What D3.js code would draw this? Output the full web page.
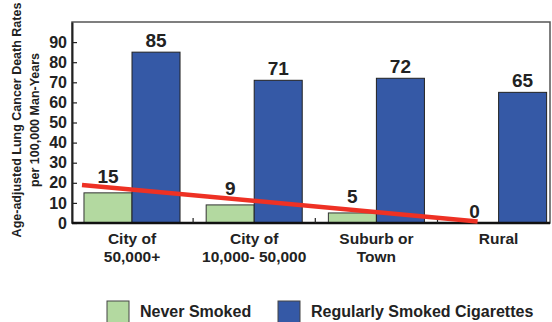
<!DOCTYPE html>
<html>
<head>
<meta charset="utf-8">
<script src="https://cdn.jsdelivr.net/npm/d3@7"></script>
<style>
  html, body { margin: 0; padding: 0; background: #fff; }
  svg { display: block; font-family: "Liberation Sans", Arial, Helvetica, sans-serif; font-weight: bold; }
</style>
</head>
<body>
<svg id="chart" width="552" height="322"></svg>
<script>
// ---- data ----
const categories = ["City of 50,000+", "City of 10,000- 50,000", "Suburb or Town", "Rural"];
const categoryLines = [["City of", "50,000+"], ["City of", "10,000- 50,000"], ["Suburb or", "Town"], ["Rural"]];
const neverSmoked = [15, 9, 5, 0];
const regularlySmoked = [85, 71, 72, 65];
const yTicks = [0, 10, 20, 30, 40, 50, 60, 70, 80, 90];
const trendValues = [18.9, 0.8];
const seriesNames = ["Never Smoked", "Regularly Smoked Cigarettes"];
const yTitle = ["Age-adjusted Lung Cancer Death Rates", "per 100,000 Man-Years"];

// ---- style ----
const green = "#b3d9a0";
const blue = "#3559a6";
const red = "#ee3124";
const ink = "#222";

const svg = d3.select("#chart");
const plot = { left: 72, right: 550, top: 22, bottom: 223 };

const x = d3.scaleBand().domain(categories).range([70.9, 559.7]).paddingInner(0.214).paddingOuter(0.107);
const bw = x.bandwidth();
const y = d3.scaleLinear().domain([0, 100]).range([plot.bottom, plot.top]);

// frame
svg.append("rect")
  .attr("x", plot.left).attr("y", plot.top)
  .attr("width", plot.right - plot.left).attr("height", plot.bottom - plot.top)
  .attr("fill", "none").attr("stroke", "#555").attr("stroke-width", 1.5);

// bars
const g = svg.append("g");
g.selectAll("rect.never").data(neverSmoked).join("rect")
  .attr("class", "never")
  .attr("x", (d, i) => x(categories[i]))
  .attr("y", d => y(d))
  .attr("width", bw / 2)
  .attr("height", d => y(0) - y(d))
  .attr("fill", green).attr("stroke", "#333").attr("stroke-width", d => d > 0 ? 1 : 0);
g.selectAll("rect.smoked").data(regularlySmoked).join("rect")
  .attr("class", "smoked")
  .attr("x", (d, i) => x(categories[i]) + bw / 2)
  .attr("y", d => y(d))
  .attr("width", bw / 2)
  .attr("height", d => y(0) - y(d))
  .attr("fill", blue).attr("stroke", "#222").attr("stroke-width", 1);

// y axis
const yAxis = d3.axisLeft(y).tickValues(yTicks).tickSizeInner(-5).tickSizeOuter(0).tickPadding(5);
const ya = svg.append("g").attr("transform", `translate(${plot.left},0)`).call(yAxis);
ya.select(".domain").attr("stroke", "#222").attr("stroke-width", 2);
ya.selectAll(".tick line").attr("stroke", "#222").attr("stroke-width", 1.2);
ya.selectAll(".tick text").attr("fill", ink).style("font-size", "16px").style("font-weight", "bold")
  .style("font-family", "'Liberation Sans', Arial, sans-serif");

// bottom axis line
svg.append("line")
  .attr("x1", plot.left).attr("x2", plot.right)
  .attr("y1", y(0)).attr("y2", y(0))
  .attr("stroke", "#111").attr("stroke-width", 2.5);

// separator ticks between groups
const step = x.step();
svg.selectAll("line.sep").data(categories.slice(1)).join("line")
  .attr("class", "sep")
  .attr("x1", d => x(d) - step * x.paddingInner() / 2)
  .attr("x2", d => x(d) - step * x.paddingInner() / 2)
  .attr("y1", y(0)).attr("y2", y(0) - 5)
  .attr("stroke", "#222").attr("stroke-width", 1.2);

// trend line
const trendX = [x(categories[0]), x(categories[3]) + bw / 4];
svg.append("line")
  .attr("x1", trendX[0] - 2).attr("y1", y(trendValues[0]))
  .attr("x2", trendX[1] + 3).attr("y2", y(trendValues[1]))
  .attr("stroke", red).attr("stroke-width", 4.5);

// value labels
svg.selectAll("text.nv").data(neverSmoked).join("text")
  .attr("class", "nv")
  .attr("x", (d, i) => x(categories[i]) + bw / 4)
  .attr("y", d => y(d) - (d > 0 ? 10 : 5))
  .attr("text-anchor", "middle").attr("fill", ink).style("font-size", "19px")
  .text(d => d);
svg.selectAll("text.sv").data(regularlySmoked).join("text")
  .attr("class", "sv")
  .attr("x", (d, i) => x(categories[i]) + 3 * bw / 4)
  .attr("y", d => y(d) - 5)
  .attr("text-anchor", "middle").attr("fill", ink).style("font-size", "19px")
  .text(d => d);

// category labels
const cl = svg.selectAll("text.cat").data(categoryLines).join("text")
  .attr("class", "cat")
  .attr("text-anchor", "middle").attr("fill", ink).style("font-size", "15.5px")
  .attr("transform", (d, i) => `translate(${x(categories[i]) + bw / 2},244)`);
cl.selectAll("tspan").data(d => d).join("tspan")
  .attr("x", 0).attr("y", (d, j) => j * 18).text(d => d);

// y title
const yt = svg.append("g").attr("transform", "translate(0,120) rotate(-90)");
yt.selectAll("text").data(yTitle).join("text")
  .attr("x", 0).attr("y", (d, i) => 20.5 + i * 18.5)
  .attr("text-anchor", "middle").attr("fill", ink).style("font-size", "12.5px")
  .text(d => d);

// legend
const legendX = [107, 278];
const lg = svg.selectAll("g.leg").data(seriesNames).join("g")
  .attr("class", "leg")
  .attr("transform", (d, i) => `translate(${legendX[i]},301)`);
lg.append("rect").attr("width", 22).attr("height", 24)
  .attr("fill", (d, i) => i === 0 ? green : blue).attr("stroke", "#444").attr("stroke-width", 1);
lg.append("text").attr("x", 33).attr("y", 16).attr("fill", ink).style("font-size", "16px").text(d => d);
</script>
</body>
</html>
